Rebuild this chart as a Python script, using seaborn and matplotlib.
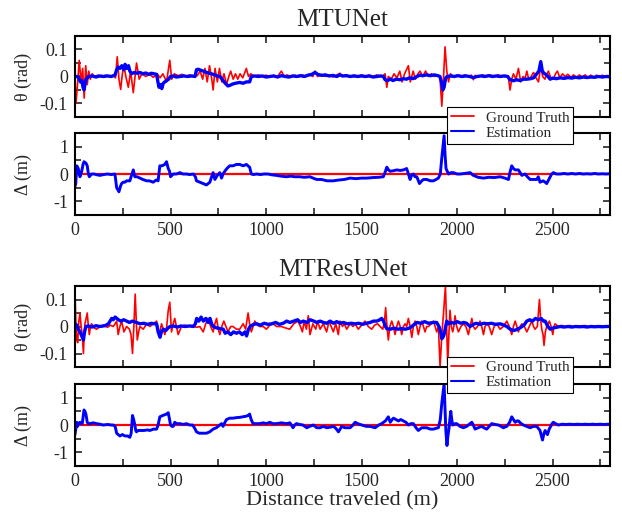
import pandas as pd
import matplotlib.pyplot as plt
import seaborn as sns
from matplotlib.lines import Line2D
from matplotlib.ticker import MultipleLocator

# (distance m, value)
mtunet_theta_truth = [(0,0.0),(5,-0.10),(13,-0.03),(22,0.06),(32,-0.02),(40,0.03),(48,-0.08),(56,0.04),(64,-0.03),(72,0.02),(80,-0.01),(90,0.01),(100,0.0),(120,0.005),(140,-0.003),(160,0.005),(180,0.0),(200,0.004),(212,-0.005),(221,0.073),(230,-0.01),(239,-0.048),(248,0.01),(256,0.04),(266,0.0),(279,-0.04),(291,0.02),(305,-0.06),(314,0.0),(322,0.05),(336,-0.01),(350,0.01),(370,0.0),(390,0.008),(410,-0.003),(430,0.01),(445,-0.005),(460,0.01),(479,-0.02),(496,0.06),(506,-0.01),(520,0.01),(540,0.003),(560,0.008),(580,0.0),(600,0.006),(620,0.0),(640,0.003),(655,0.02),(668,-0.01),(680,0.03),(692,-0.02),(704,0.04),(716,-0.01),(723,-0.05),(733,0.03),(745,-0.02),(756,0.03),(768,-0.02),(780,0.01),(793,-0.03),(805,0.0),(815,0.02),(828,-0.01),(840,0.01),(852,-0.01),(864,0.01),(878,-0.005),(897,0.03),(908,0.0),(920,0.01),(940,0.0),(960,0.006),(980,0.0),(1000,0.005),(1020,-0.002),(1040,0.004),(1060,0.0),(1080,0.02),(1095,0.0),(1110,0.006),(1130,0.0),(1150,0.005),(1170,-0.002),(1190,0.006),(1210,0.0),(1230,0.005),(1245,0.0),(1257,0.02),(1270,0.0),(1290,0.008),(1310,0.0),(1330,0.006),(1350,-0.002),(1370,0.006),(1387,0.012),(1400,0.0),(1420,0.006),(1440,0.0),(1460,0.005),(1480,0.0),(1500,0.006),(1520,-0.002),(1540,0.005),(1560,0.0),(1580,0.006),(1600,0.0),(1614,0.004),(1623,0.01),(1632,-0.04),(1640,0.0),(1655,-0.01),(1670,0.01),(1685,-0.005),(1700,0.02),(1712,-0.02),(1725,0.01),(1745,0.04),(1755,-0.02),(1770,0.02),(1782,-0.01),(1795,0.01),(1806,0.02),(1820,0.0),(1835,0.02),(1850,0.0),(1865,0.01),(1880,0.0),(1900,0.003),(1910,0.0),(1920,-0.11),(1929,0.0),(1937,0.11),(1946,0.02),(1955,-0.02),(1965,0.01),(1980,0.0),(2000,0.005),(2020,0.0),(2040,0.006),(2060,0.0),(2075,0.005),(2085,-0.012),(2095,0.004),(2115,0.0),(2135,0.006),(2155,0.0),(2175,0.005),(2195,0.0),(2215,0.006),(2235,0.0),(2255,0.004),(2268,0.0),(2277,-0.05),(2286,-0.01),(2295,0.01),(2308,-0.01),(2321,0.03),(2333,-0.02),(2345,0.0),(2355,-0.01),(2365,0.02),(2375,-0.01),(2388,0.0),(2400,0.015),(2413,-0.005),(2426,-0.02),(2438,0.04),(2448,0.0),(2460,-0.01),(2470,0.01),(2478,0.02),(2490,-0.005),(2504,-0.01),(2515,0.01),(2525,0.02),(2538,-0.005),(2552,0.01),(2565,0.0),(2580,0.008),(2595,-0.003),(2610,0.006),(2625,-0.004),(2640,0.006),(2655,-0.003),(2670,0.006),(2685,-0.004),(2700,0.005),(2715,-0.003),(2730,0.005),(2745,-0.003),(2760,0.005),(2775,-0.002),(2790,0.004),(2800,0.0)]

mtunet_theta_est = [(0,0.0),(10,0.0),(20,-0.005),(28,-0.02),(36,-0.015),(42,-0.04),(47,-0.05),(52,-0.03),(58,-0.01),(70,0.0),(90,0.002),(110,-0.002),(130,0.002),(150,0.0),(170,0.002),(190,0.0),(209,0.005),(218,0.025),(226,0.035),(235,0.03),(245,0.04),(255,0.025),(262,0.045),(270,0.03),(280,0.04),(287,0.02),(296,0.01),(310,0.015),(325,0.012),(340,0.015),(355,0.01),(370,0.013),(385,0.008),(400,0.012),(415,0.01),(427,0.008),(434,-0.02),(440,-0.04),(447,-0.03),(454,-0.045),(462,-0.025),(470,-0.02),(480,-0.015),(490,-0.01),(500,0.0),(515,0.002),(530,-0.002),(550,0.0),(570,0.002),(590,0.0),(610,0.002),(628,0.0),(636,0.025),(645,0.027),(655,0.024),(671,0.02),(690,0.015),(705,0.012),(723,0.008),(740,0.003),(758,0.0),(770,-0.01),(780,-0.02),(793,-0.03),(800,-0.035),(810,-0.033),(825,-0.028),(840,-0.025),(862,-0.022),(880,-0.025),(897,-0.02),(914,-0.02),(923,0.0),(940,0.002),(960,0.0),(980,0.002),(1000,-0.002),(1020,0.0),(1040,0.002),(1060,-0.002),(1080,0.003),(1100,0.0),(1120,-0.002),(1140,0.002),(1160,0.0),(1180,0.003),(1200,0.0),(1220,0.005),(1240,0.008),(1256,0.015),(1270,0.008),(1290,0.004),(1310,0.006),(1330,0.002),(1350,0.004),(1370,0.0),(1387,0.006),(1400,0.002),(1420,0.003),(1440,0.0),(1460,0.002),(1480,0.0),(1500,0.002),(1520,0.0),(1540,0.002),(1560,-0.002),(1580,0.0),(1600,0.002),(1614,0.0),(1623,-0.012),(1635,-0.015),(1650,-0.01),(1665,-0.015),(1680,-0.01),(1702,-0.012),(1720,-0.008),(1735,-0.01),(1750,-0.005),(1770,-0.008),(1790,0.0),(1805,0.005),(1820,0.003),(1840,0.006),(1860,0.003),(1880,0.006),(1900,0.003),(1910,0.0),(1918,-0.02),(1925,-0.05),(1932,-0.04),(1940,-0.005),(1948,0.0),(1965,0.002),(1985,0.0),(2005,0.003),(2025,0.0),(2045,0.002),(2065,0.0),(2085,-0.004),(2105,0.0),(2125,0.002),(2145,0.0),(2165,0.003),(2185,0.0),(2205,0.002),(2225,0.0),(2245,0.002),(2265,0.0),(2277,-0.012),(2295,-0.016),(2310,-0.012),(2330,-0.015),(2347,-0.01),(2365,-0.01),(2385,-0.008),(2400,-0.005),(2417,0.01),(2428,0.02),(2438,0.055),(2446,0.02),(2455,0.012),(2470,0.005),(2487,-0.01),(2500,-0.006),(2520,-0.008),(2540,-0.005),(2560,-0.007),(2580,-0.004),(2600,-0.006),(2620,-0.003),(2640,-0.005),(2660,-0.002),(2680,-0.004),(2700,-0.002),(2720,-0.003),(2740,0.0),(2760,-0.002),(2780,0.0),(2800,-0.001)]

mtunet_delta_est = [(0,-0.45),(4,-0.35),(9,0.3),(17,0.2),(26,-0.1),(35,0.1),(42,0.35),(47,0.45),(57,0.4),(64,0.3),(70,0.0),(75,-0.1),(87,0.0),(100,0.0),(115,-0.03),(131,-0.05),(150,-0.02),(170,0.0),(190,-0.02),(209,0.0),(218,-0.5),(230,-0.65),(238,-0.45),(244,-0.35),(252,-0.3),(261,-0.3),(270,-0.25),(287,-0.25),(296,-0.05),(305,0.15),(313,-0.1),(325,-0.1),(340,-0.15),(355,-0.2),(375,-0.25),(390,-0.25),(409,-0.3),(425,-0.22),(435,-0.25),(444,0.3),(455,0.3),(470,0.35),(479,0.45),(488,0.2),(495,0.1),(500,-0.1),(514,0.0),(530,0.0),(549,0.05),(565,0.0),(584,0.0),(600,-0.02),(620,0.0),(630,-0.1),(636,-0.25),(653,-0.3),(670,-0.35),(688,-0.4),(706,-0.3),(715,-0.1),(723,0.05),(732,-0.2),(745,-0.05),(758,0.05),(767,-0.15),(775,0.0),(784,0.1),(795,0.2),(810,0.3),(827,0.3),(845,0.35),(862,0.35),(880,0.3),(897,0.35),(905,0.3),(914,0.25),(923,0.0),(935,-0.02),(950,0.0),(970,-0.02),(990,0.0),(1010,0.0),(1030,-0.03),(1054,-0.05),(1080,-0.08),(1106,-0.1),(1130,-0.08),(1150,-0.1),(1176,-0.1),(1200,-0.12),(1230,-0.1),(1246,-0.15),(1265,-0.2),(1290,-0.2),(1320,-0.25),(1352,-0.25),(1380,-0.22),(1410,-0.2),(1440,-0.15),(1470,-0.17),(1500,-0.15),(1527,-0.15),(1560,-0.13),(1590,-0.12),(1614,-0.1),(1625,0.1),(1632,0.25),(1641,0.15),(1650,0.1),(1667,0.12),(1684,0.15),(1702,0.13),(1719,0.15),(1736,0.2),(1745,0.0),(1754,-0.2),(1762,-0.05),(1771,0.0),(1780,-0.1),(1789,-0.1),(1803,-0.35),(1815,-0.25),(1824,-0.2),(1841,-0.2),(1860,-0.25),(1876,-0.25),(1890,-0.2),(1902,-0.15),(1912,0.0),(1920,0.6),(1932,1.4),(1937,0.7),(1942,0.2),(1955,0.0),(1968,0.05),(1981,0.05),(2000,0.0),(2016,0.0),(2040,0.02),(2068,0.05),(2085,-0.05),(2110,-0.12),(2138,-0.15),(2165,-0.12),(2195,-0.13),(2225,-0.1),(2250,-0.15),(2269,-0.2),(2278,0.1),(2286,0.3),(2295,0.2),(2304,0.15),(2321,0.15),(2330,0.05),(2339,-0.05),(2356,0.0),(2368,-0.1),(2382,-0.2),(2400,-0.2),(2417,-0.2),(2425,-0.1),(2434,-0.3),(2450,-0.25),(2461,-0.3),(2469,-0.35),(2480,-0.2),(2495,0.0),(2504,0.05),(2520,0.0),(2539,0.0),(2560,0.02),(2580,0.0),(2600,0.02),(2620,0.0),(2640,0.02),(2660,0.0),(2680,0.01),(2700,0.0),(2720,0.02),(2740,0.0),(2760,0.01),(2780,0.0),(2800,0.01)]

mtresunet_theta_truth = [(0,0.13),(5,0.0),(9,-0.05),(14,-0.06),(20,0.02),(26,0.05),(32,0.0),(38,-0.03),(44,-0.1),(48,-0.03),(52,0.01),(58,0.03),(64,0.05),(70,0.0),(75,-0.03),(81,0.0),(87,0.01),(100,-0.005),(113,-0.01),(131,0.0),(150,0.005),(170,-0.003),(185,0.005),(200,0.0),(210,0.01),(218,0.02),(226,-0.03),(235,0.0),(244,0.02),(256,-0.02),(270,0.0),(285,-0.01),(293,-0.03),(301,-0.1),(308,0.0),(315,0.12),(322,0.0),(326,-0.05),(333,-0.02),(340,0.0),(357,-0.01),(375,0.01),(392,0.0),(410,0.01),(427,0.02),(440,-0.03),(453,0.01),(470,-0.03),(480,0.0),(488,0.06),(496,0.09),(505,-0.02),(514,0.01),(522,0.03),(531,0.0),(540,-0.03),(557,0.0),(575,0.005),(595,0.0),(615,0.004),(635,-0.003),(653,0.0),(671,-0.02),(684,0.01),(697,0.03),(710,0.0),(723,-0.02),(732,0.01),(741,0.03),(750,-0.01),(758,-0.03),(768,0.0),(779,0.02),(790,0.0),(801,-0.02),(815,0.0),(827,0.0),(845,-0.01),(862,-0.01),(880,0.01),(893,-0.01),(906,0.05),(914,0.01),(923,-0.02),(932,0.0),(941,0.02),(955,0.005),(967,0.0),(985,0.0),(1002,-0.01),(1020,0.005),(1037,0.01),(1055,0.0),(1080,0.0),(1100,-0.005),(1124,-0.01),(1145,0.01),(1167,0.02),(1180,0.0),(1190,-0.02),(1200,0.02),(1211,-0.01),(1221,0.04),(1230,-0.03),(1245,0.01),(1260,-0.01),(1270,0.02),(1283,-0.01),(1300,0.01),(1317,-0.02),(1330,0.02),(1352,-0.02),(1365,0.01),(1378,-0.03),(1387,0.02),(1400,0.0),(1410,0.01),(1422,-0.01),(1440,0.01),(1455,0.0),(1466,0.01),(1483,-0.01),(1500,0.005),(1518,0.02),(1535,0.0),(1553,-0.01),(1568,0.005),(1583,0.01),(1597,0.0),(1611,-0.01),(1620,0.02),(1626,0.07),(1633,0.0),(1640,-0.05),(1648,0.0),(1658,0.02),(1667,0.0),(1675,-0.03),(1684,0.0),(1693,0.02),(1702,0.0),(1710,-0.03),(1719,0.0),(1728,0.01),(1736,0.0),(1745,0.03),(1754,0.0),(1763,-0.04),(1771,0.0),(1780,0.02),(1789,0.0),(1797,-0.03),(1806,0.0),(1815,0.02),(1824,0.0),(1832,-0.02),(1841,0.0),(1850,0.0),(1865,0.01),(1876,0.02),(1885,0.0),(1893,-0.02),(1902,0.0),(1911,-0.15),(1920,-0.03),(1928,0.04),(1939,0.15),(1945,0.0),(1951,-0.14),(1957,-0.03),(1963,0.06),(1970,0.0),(1977,-0.02),(1983,0.0),(1989,0.04),(1998,0.0),(2007,-0.02),(2020,0.0),(2033,0.01),(2046,0.0),(2059,-0.03),(2068,0.0),(2077,0.03),(2085,0.0),(2094,-0.01),(2107,0.0),(2120,0.02),(2129,0.0),(2138,-0.03),(2146,0.0),(2155,0.01),(2168,0.0),(2181,-0.03),(2194,0.0),(2207,0.01),(2216,0.0),(2225,-0.01),(2242,0.0),(2260,0.02),(2273,0.0),(2286,-0.03),(2295,0.0),(2304,0.02),(2313,0.0),(2321,-0.02),(2330,0.0),(2339,0.01),(2352,0.0),(2365,-0.02),(2378,0.0),(2391,0.02),(2400,0.0),(2408,-0.01),(2420,0.0),(2431,0.1),(2437,0.03),(2443,-0.01),(2450,-0.03),(2455,-0.07),(2462,-0.02),(2469,0.0),(2483,0.02),(2492,0.0),(2501,-0.03),(2507,0.0),(2513,0.01),(2530,0.0),(2550,0.004),(2570,-0.003),(2590,0.004),(2610,-0.003),(2630,0.003),(2650,-0.003),(2670,0.004),(2690,-0.002),(2710,0.003),(2730,-0.003),(2750,0.003),(2770,-0.002),(2790,0.003),(2800,0.0)]

mtresunet_theta_est = [(0,0.01),(9,0.005),(17,-0.01),(26,-0.02),(35,-0.035),(44,-0.05),(50,-0.02),(57,0.0),(70,0.002),(90,-0.002),(110,0.003),(130,0.0),(157,0.003),(175,0.01),(192,0.03),(200,0.025),(210,0.035),(227,0.025),(240,0.02),(255,0.025),(270,0.02),(285,0.015),(300,0.02),(322,0.015),(340,0.01),(360,0.012),(380,0.008),(400,0.012),(415,0.01),(427,0.01),(435,-0.02),(445,-0.04),(452,-0.02),(462,-0.01),(475,-0.015),(488,-0.005),(497,0.0),(515,0.002),(535,-0.002),(555,0.002),(575,0.0),(600,0.002),(620,0.0),(630,0.01),(637,0.03),(648,0.02),(660,0.035),(672,0.02),(685,0.03),(697,0.015),(707,0.03),(715,0.01),(724,0.0),(740,-0.005),(760,-0.008),(776,-0.01),(786,-0.025),(800,-0.02),(815,-0.03),(830,-0.02),(845,-0.025),(860,-0.02),(875,-0.03),(890,-0.02),(898,-0.035),(908,-0.01),(916,0.0),(935,0.008),(951,0.01),(970,0.005),(990,0.012),(1010,0.008),(1030,0.01),(1050,0.015),(1070,0.008),(1090,0.012),(1108,0.02),(1125,0.015),(1145,0.02),(1165,0.025),(1180,0.015),(1195,0.02),(1215,0.015),(1230,0.025),(1250,0.02),(1265,0.015),(1283,0.02),(1300,0.015),(1318,0.012),(1335,0.02),(1353,0.012),(1370,0.018),(1387,0.012),(1405,0.015),(1425,0.01),(1445,0.012),(1465,0.01),(1485,0.012),(1505,0.008),(1525,0.012),(1545,0.015),(1562,0.02),(1580,0.02),(1595,0.025),(1605,0.03),(1615,0.02),(1625,0.0),(1632,-0.008),(1650,-0.01),(1670,-0.006),(1690,-0.01),(1710,-0.008),(1730,-0.01),(1754,-0.005),(1771,0.005),(1790,0.015),(1810,0.012),(1830,0.018),(1850,0.012),(1876,0.015),(1893,0.015),(1905,0.0),(1914,-0.02),(1920,-0.045),(1926,-0.04),(1932,-0.03),(1940,0.0),(1946,0.02),(1955,0.01),(1970,0.015),(1985,0.012),(2000,0.018),(2020,0.012),(2035,0.015),(2050,0.012),(2068,0.0),(2085,0.008),(2100,0.012),(2120,0.008),(2140,0.012),(2160,0.01),(2180,0.012),(2200,0.008),(2225,0.01),(2245,0.005),(2260,0.0),(2278,-0.01),(2295,-0.015),(2310,-0.012),(2330,-0.005),(2350,0.005),(2365,0.02),(2380,0.025),(2395,0.02),(2410,0.03),(2425,0.025),(2440,0.03),(2452,0.02),(2461,0.02),(2475,0.0),(2487,-0.01),(2504,-0.005),(2520,-0.003),(2540,0.0),(2560,-0.002),(2580,0.0),(2600,-0.002),(2620,0.0),(2640,-0.001),(2660,0.0),(2680,-0.002),(2700,0.0),(2720,-0.001),(2740,0.0),(2760,-0.001),(2780,0.0),(2800,0.0)]

mtresunet_delta_est = [(0,-0.35),(5,-0.1),(9,0.1),(13,-0.05),(17,0.05),(26,0.1),(32,0.05),(38,0.05),(47,0.55),(52,0.5),(57,0.4),(62,0.2),(64,0.1),(70,0.05),(78,0.05),(95,0.08),(113,0.05),(130,0.03),(148,0.0),(170,0.02),(190,0.0),(200,0.0),(210,-0.05),(218,-0.3),(226,-0.35),(235,-0.4),(248,-0.35),(261,-0.4),(275,-0.4),(287,-0.45),(294,-0.3),(301,0.35),(307,0.2),(313,0.0),(318,-0.2),(322,-0.25),(330,-0.2),(340,-0.2),(360,-0.2),(380,-0.18),(392,-0.2),(410,-0.15),(427,-0.15),(435,0.0),(444,0.3),(460,0.35),(479,0.4),(488,0.45),(495,0.2),(500,0.0),(507,-0.05),(514,-0.05),(522,0.1),(531,0.05),(550,0.05),(565,0.02),(584,0.05),(600,0.0),(615,0.0),(625,-0.1),(636,-0.25),(650,-0.3),(670,-0.3),(688,-0.3),(705,-0.25),(723,-0.15),(740,-0.1),(758,0.0),(767,0.05),(775,-0.05),(785,0.1),(793,0.2),(810,0.25),(827,0.25),(845,0.27),(862,0.28),(880,0.3),(895,0.32),(906,0.35),(914,0.4),(922,0.2),(932,0.05),(950,0.05),(967,0.05),(985,0.08),(1002,0.05),(1020,0.1),(1035,0.05),(1054,0.05),(1080,0.08),(1106,0.05),(1125,0.08),(1141,-0.1),(1150,0.0),(1159,0.05),(1175,0.02),(1193,0.0),(1213,-0.1),(1228,-0.05),(1248,0.0),(1265,-0.1),(1283,-0.1),(1300,-0.05),(1318,-0.1),(1335,-0.08),(1353,-0.05),(1365,-0.12),(1379,-0.25),(1396,-0.05),(1413,-0.1),(1440,-0.1),(1455,0.0),(1466,0.1),(1480,0.05),(1501,0.0),(1525,-0.05),(1544,-0.05),(1571,-0.1),(1590,0.0),(1605,0.05),(1625,0.15),(1640,0.3),(1650,0.1),(1660,0.2),(1667,0.25),(1680,0.2),(1693,0.15),(1705,0.2),(1719,0.15),(1732,0.1),(1745,0.0),(1758,0.05),(1771,0.05),(1785,-0.1),(1797,-0.2),(1806,-0.15),(1815,-0.1),(1830,-0.1),(1841,-0.1),(1860,-0.15),(1876,-0.15),(1890,-0.12),(1902,-0.1),(1912,0.2),(1920,0.8),(1932,1.5),(1937,0.5),(1941,-0.2),(1947,-0.75),(1952,-0.4),(1958,-0.1),(1962,0.2),(1967,0.5),(1972,0.2),(1977,0.0),(1990,0.05),(1998,0.05),(2015,-0.05),(2033,-0.1),(2050,-0.05),(2059,0.0),(2068,0.05),(2077,0.1),(2085,0.0),(2094,-0.15),(2110,-0.1),(2129,-0.05),(2140,-0.1),(2155,-0.15),(2168,-0.05),(2181,0.05),(2200,0.02),(2216,0.0),(2230,-0.05),(2242,-0.1),(2260,-0.05),(2275,0.1),(2286,0.3),(2295,0.2),(2304,0.1),(2313,0.15),(2321,0.15),(2335,0.05),(2347,0.0),(2365,-0.05),(2382,-0.1),(2400,-0.05),(2417,-0.05),(2428,-0.15),(2434,-0.2),(2447,-0.55),(2455,-0.3),(2461,-0.2),(2468,-0.3),(2473,-0.35),(2482,-0.15),(2490,-0.05),(2497,0.05),(2504,0.1),(2515,0.05),(2530,0.0),(2550,0.03),(2570,0.02),(2590,0.03),(2610,0.02),(2630,0.03),(2650,0.02),(2670,0.03),(2690,0.02),(2710,0.03),(2730,0.02),(2750,0.03),(2770,0.02),(2790,0.03),(2800,0.02)]

# ground truth offset is zero all along
delta_truth = [(0, 0.0), (2800, 0.0)]

titles = ["MTUNet", "MTResUNet"]
RED = "#ff0000"
BLUE = "#0000ff"

sns.set_style("ticks")
plt.rcParams['font.family'] = ['Liberation Serif', 'DejaVu Serif']

fig = plt.figure(figsize=(6.22, 5.12), dpi=100)
W = 0.860
L = 0.1206
ax_th1 = fig.add_axes([L, 0.7715, W, 0.1582])
ax_d1 = fig.add_axes([L, 0.5801, W, 0.1601])
ax_th2 = fig.add_axes([L, 0.2832, W, 0.1582])
ax_d2 = fig.add_axes([L, 0.0898, W, 0.1602])


def df(pairs):
    return pd.DataFrame(pairs, columns=["dist", "val"])


groups = [
    (ax_th1, ax_d1, mtunet_theta_truth, mtunet_theta_est, mtunet_delta_est),
    (ax_th2, ax_d2, mtresunet_theta_truth, mtresunet_theta_est, mtresunet_delta_est),
]

for i, (ax_t, ax_d, th_gt, th_est, d_est) in enumerate(groups):
    sns.lineplot(data=df(th_gt), x="dist", y="val", ax=ax_t, color=RED, lw=1.2,
                 estimator=None, sort=False)
    sns.lineplot(data=df(th_est), x="dist", y="val", ax=ax_t, color=BLUE, lw=2.4,
                 estimator=None, sort=False)
    sns.lineplot(data=df(delta_truth), x="dist", y="val", ax=ax_d, color=RED, lw=1.6,
                 estimator=None, sort=False)
    sns.lineplot(data=df(d_est), x="dist", y="val", ax=ax_d, color=BLUE, lw=2.1,
                 estimator=None, sort=False)

    ax_t.set_ylim(-0.15, 0.15)
    ax_t.set_yticks([-0.1, 0, 0.1])
    ax_t.set_yticklabels(["-0.1", "0", "0.1"])
    ax_t.yaxis.set_minor_locator(MultipleLocator(0.05))
    ax_t.set_ylabel("θ (rad)", fontsize=13)

    ax_d.set_ylim(-1.5, 1.5)
    ax_d.set_yticks([-1, 0, 1])
    ax_d.set_yticklabels(["-1", "0", "1"])
    ax_d.yaxis.set_minor_locator(MultipleLocator(0.5))
    ax_d.set_ylabel("Δ (m)", fontsize=13)

    for ax in (ax_t, ax_d):
        ax.set_xlim(0, 2800)
        ax.xaxis.set_major_locator(MultipleLocator(500))
        ax.xaxis.set_minor_locator(MultipleLocator(250))
        ax.tick_params(which="both", direction="in", top=True, right=True,
                       labelsize=13, width=1.2)
        ax.tick_params(which="major", length=5, pad=5)
        ax.tick_params(which="minor", length=5)
        ax.tick_params(axis="y", which="minor", length=4)
        for s in ax.spines.values():
            s.set_linewidth(1.5)
            s.set_color("black")
        ax.yaxis.set_label_coords(-0.08, 0.5)
        ax.set_xlabel("")
    ax_t.tick_params(labelbottom=False)
    ax_t.set_title(titles[i], fontsize=18, pad=7)

ax_d2.set_xlabel("Distance traveled (m)", fontsize=16, labelpad=1)

handles = [Line2D([], [], color=RED, lw=1.3), Line2D([], [], color=BLUE, lw=1.5)]
for top in (0.7910, 0.3034):
    leg = fig.legend(handles, ["Ground Truth", "Estimation"], loc="upper left",
                     bbox_to_anchor=(0.7186, top), fontsize=11, frameon=True,
                     fancybox=False, framealpha=1, edgecolor="black",
                     handlelength=1.5, handletextpad=0.8, borderpad=0.25,
                     labelspacing=0.1, borderaxespad=0)
    leg.get_frame().set_linewidth(0.8)
    leg.set_zorder(10)

fig.savefig("out.png", dpi=100)
